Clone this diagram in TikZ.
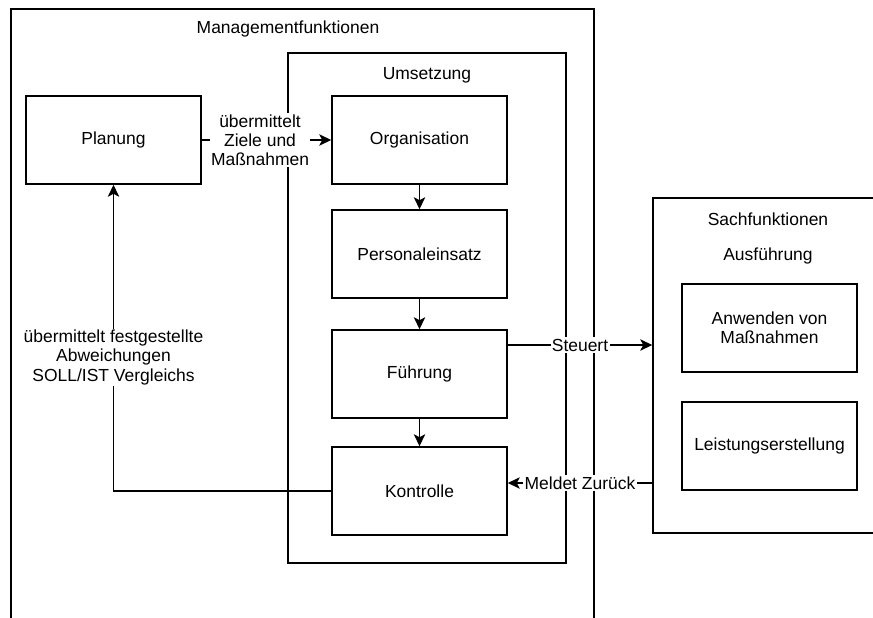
\documentclass[tikz,border=0pt]{standalone}
\usepackage{fontspec}
\setmainfont{Liberation Sans}
\usetikzlibrary{arrows.meta}
\begin{document}
\begin{tikzpicture}[x=0.75pt,y=-0.75pt,
  font=\fontsize{13.1}{14.4}\selectfont,
  line width=1.1pt,
  box/.style={draw, rectangle, minimum width=131.25pt, minimum height=66pt, inner sep=0pt, align=center},
  cont/.style={draw, rectangle, inner sep=0pt},
  arr/.style={-{Stealth[length=9pt,width=8.5pt,inset=2.2pt]}},
  lbl/.style={fill=white, inner sep=1pt, align=center},
  ttl/.style={inner sep=0pt, align=center}]
\useasboundingbox (0,0) rectangle (873,617);
\clip (0,0) rectangle (873,617);
% containers
\node[cont, minimum width=437.25pt, minimum height=518.25pt] (mgmt) at (302.5,354.5) {};
\node[cont, minimum width=208.5pt, minimum height=382.5pt] (ums) at (427,308) {};
\node[cont, minimum width=260.25pt, minimum height=251.25pt] (sach) at (826.5,365.5) {};
\node[ttl] (mgmtT) at (288,29) {Managementfunktionen};
\node[ttl] (umsT) at (427,75) {Umsetzung};
\node[ttl] (sachT) at (768,219) {Sachfunktionen};
\node[ttl] (ausT) at (768,256) {Ausführung};
% boxes
\node[box] (planung) at (113.5,140) {Planung};
\node[box] (org) at (419.5,140) {Organisation};
\node[box] (pers) at (419.5,254) {Personaleinsatz};
\node[box] (fuehr) at (419.5,374) {Führung};
\node[box] (kontr) at (419.5,491) {Kontrolle};
\node[box] (anw) at (769.5,328) {Anwenden von\\Maßnahmen};
\node[box] (leist) at (769.5,446) {Leistungserstellung};
% connectors
\draw[arr] (planung.east) -- node[lbl, pos=0.45] {übermittelt\\Ziele und\\Maßnahmen} (org.west);
\draw[arr] (org.south) -- (pers.north);
\draw[arr] (pers.south) -- (fuehr.north);
\draw[arr] (fuehr.south) -- (kontr.north);
\draw[arr] (fuehr.east |- 0,345) -- node[lbl] {Steuert} (sach.west |- 0,345);
\draw[arr] (sach.west |- 0,483) -- node[lbl] {Meldet Zurück} (kontr.east |- 0,483);
\draw[arr] (kontr.west) -| node[lbl, pos=0.718] {übermittelt festgestellte\\Abweichungen\\SOLL/IST Vergleichs} (planung.south);
\end{tikzpicture}
\end{document}
